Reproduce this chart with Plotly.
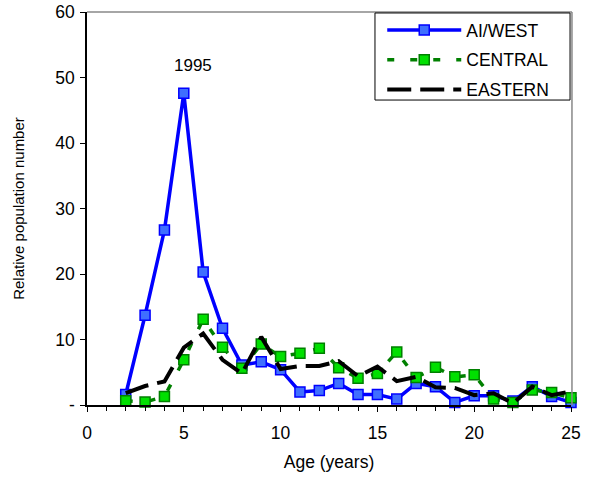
import plotly.graph_objects as go

ages = list(range(2, 26))
ai_west = [1.6, 13.7, 26.7, 47.6, 20.3, 11.7, 6.1, 6.6, 5.4, 2.0, 2.2, 3.3, 1.6, 1.6, 0.9, 3.3, 2.8, 0.4, 1.4, 1.4, 0.6, 2.8, 1.3, 0.4]
central = [0.65, 0.45, 1.3, 6.9, 13.1, 8.8, 5.6, 9.3, 7.4, 7.9, 8.65, 5.7, 4.1, 4.8, 8.1, 4.2, 5.75, 4.3, 4.6, 0.9, 0.4, 2.3, 1.9, 1.1]
eastern = [1.8, 2.9, 3.6, 8.75, 10.9, 6.9, 4.8, 10.4, 5.5, 5.95, 5.95, 6.7, 4.4, 5.85, 3.65, 4.3, 2.7, 2.6, 1.5, 1.8, 0.25, 2.8, 1.5, 2.1]
y_ticks = [0, 10, 20, 30, 40, 50, 60]
y_ticktext = ["-", "10", "20", "30", "40", "50", "60"]
x_ticks = [0, 5, 10, 15, 20, 25]

FONT = "Liberation Sans, Arial, sans-serif"

fig = go.Figure()
fig.add_trace(go.Scatter(
    x=ages, y=ai_west, name="AI/WEST", mode="lines+markers", legendgroup="a",
    line=dict(color="#0000ff", width=3.5),
    marker=dict(symbol="square", size=10, color="#3f6fff", line=dict(color="#0000ff", width=1.5)),
    cliponaxis=False,
))
fig.add_trace(go.Scatter(
    x=ages, y=central, name="CENTRAL", mode="lines+markers", legendgroup="b",
    line=dict(color="#008000", width=3.5, dash="7px,16px"),
    marker=dict(symbol="square", size=10, color="#00e000", line=dict(color="#008000", width=1.5)),
    cliponaxis=False,
))
fig.add_trace(go.Scatter(
    x=ages, y=eastern, name="EASTERN", mode="lines", legendgroup="c",
    line=dict(color="#000000", width=4, dash="24px,9px"),
    cliponaxis=False,
))

fig.add_annotation(x=5.45, y=51.8, text="1995", showarrow=False,
                   font=dict(family=FONT, size=17, color="#000"), yanchor="middle")

# gray frame on top and right
fig.add_shape(type="line", xref="paper", yref="paper", x0=0, x1=1.002, y0=1, y1=1,
              line=dict(color="#888888", width=1.5))
fig.add_shape(type="line", xref="paper", yref="paper", x0=1.002, x1=1.002, y0=0, y1=1,
              line=dict(color="#888888", width=1.5))
# legend frame
fig.add_shape(type="rect", xref="paper", yref="paper", x0=0.595, x1=0.998, y0=0.776, y1=0.9975,
              line=dict(color="#000", width=1), fillcolor="white", layer="above")

fig.update_layout(
    width=590, height=479,
    margin=dict(l=87, r=19, t=12, b=74),
    paper_bgcolor="white", plot_bgcolor="white",
    font=dict(family=FONT, size=17.5, color="#000"),
    showlegend=True,
    legend=dict(x=0.61, y=1.0, xanchor="left", yanchor="top",
                borderwidth=0, bgcolor="rgba(0,0,0,0)",
                font=dict(family=FONT, size=17.5), itemwidth=74,
                tracegroupgap=4),
    xaxis=dict(range=[0, 25], tickvals=x_ticks, showgrid=False, zeroline=False,
               showline=True, linecolor="#000", linewidth=1.5, automargin=False,
               ticks="outside", ticklen=5, tickcolor="#000", tickwidth=1, ticklabelstandoff=6,
               ticklabeloverflow="allow",
               minor=dict(dtick=1, ticks="outside", ticklen=4, tickwidth=1, tickcolor="#000", showgrid=False),
               title=dict(text="Age (years)", font=dict(size=17.5), standoff=14)),
    yaxis=dict(range=[0, 60], tickvals=y_ticks, ticktext=y_ticktext, showgrid=False, zeroline=False,
               showline=True, linecolor="#000", linewidth=1.5, automargin=False,
               ticks="outside", ticklen=5, tickcolor="#000", tickwidth=1, ticklabelstandoff=2,
               ticklabeloverflow="allow",
               title=dict(text="Relative population number", font=dict(size=15), standoff=27)),
)

fig.write_html("out.html", config={"displayModeBar": False},
               post_script="document.body.style.margin='0';")
